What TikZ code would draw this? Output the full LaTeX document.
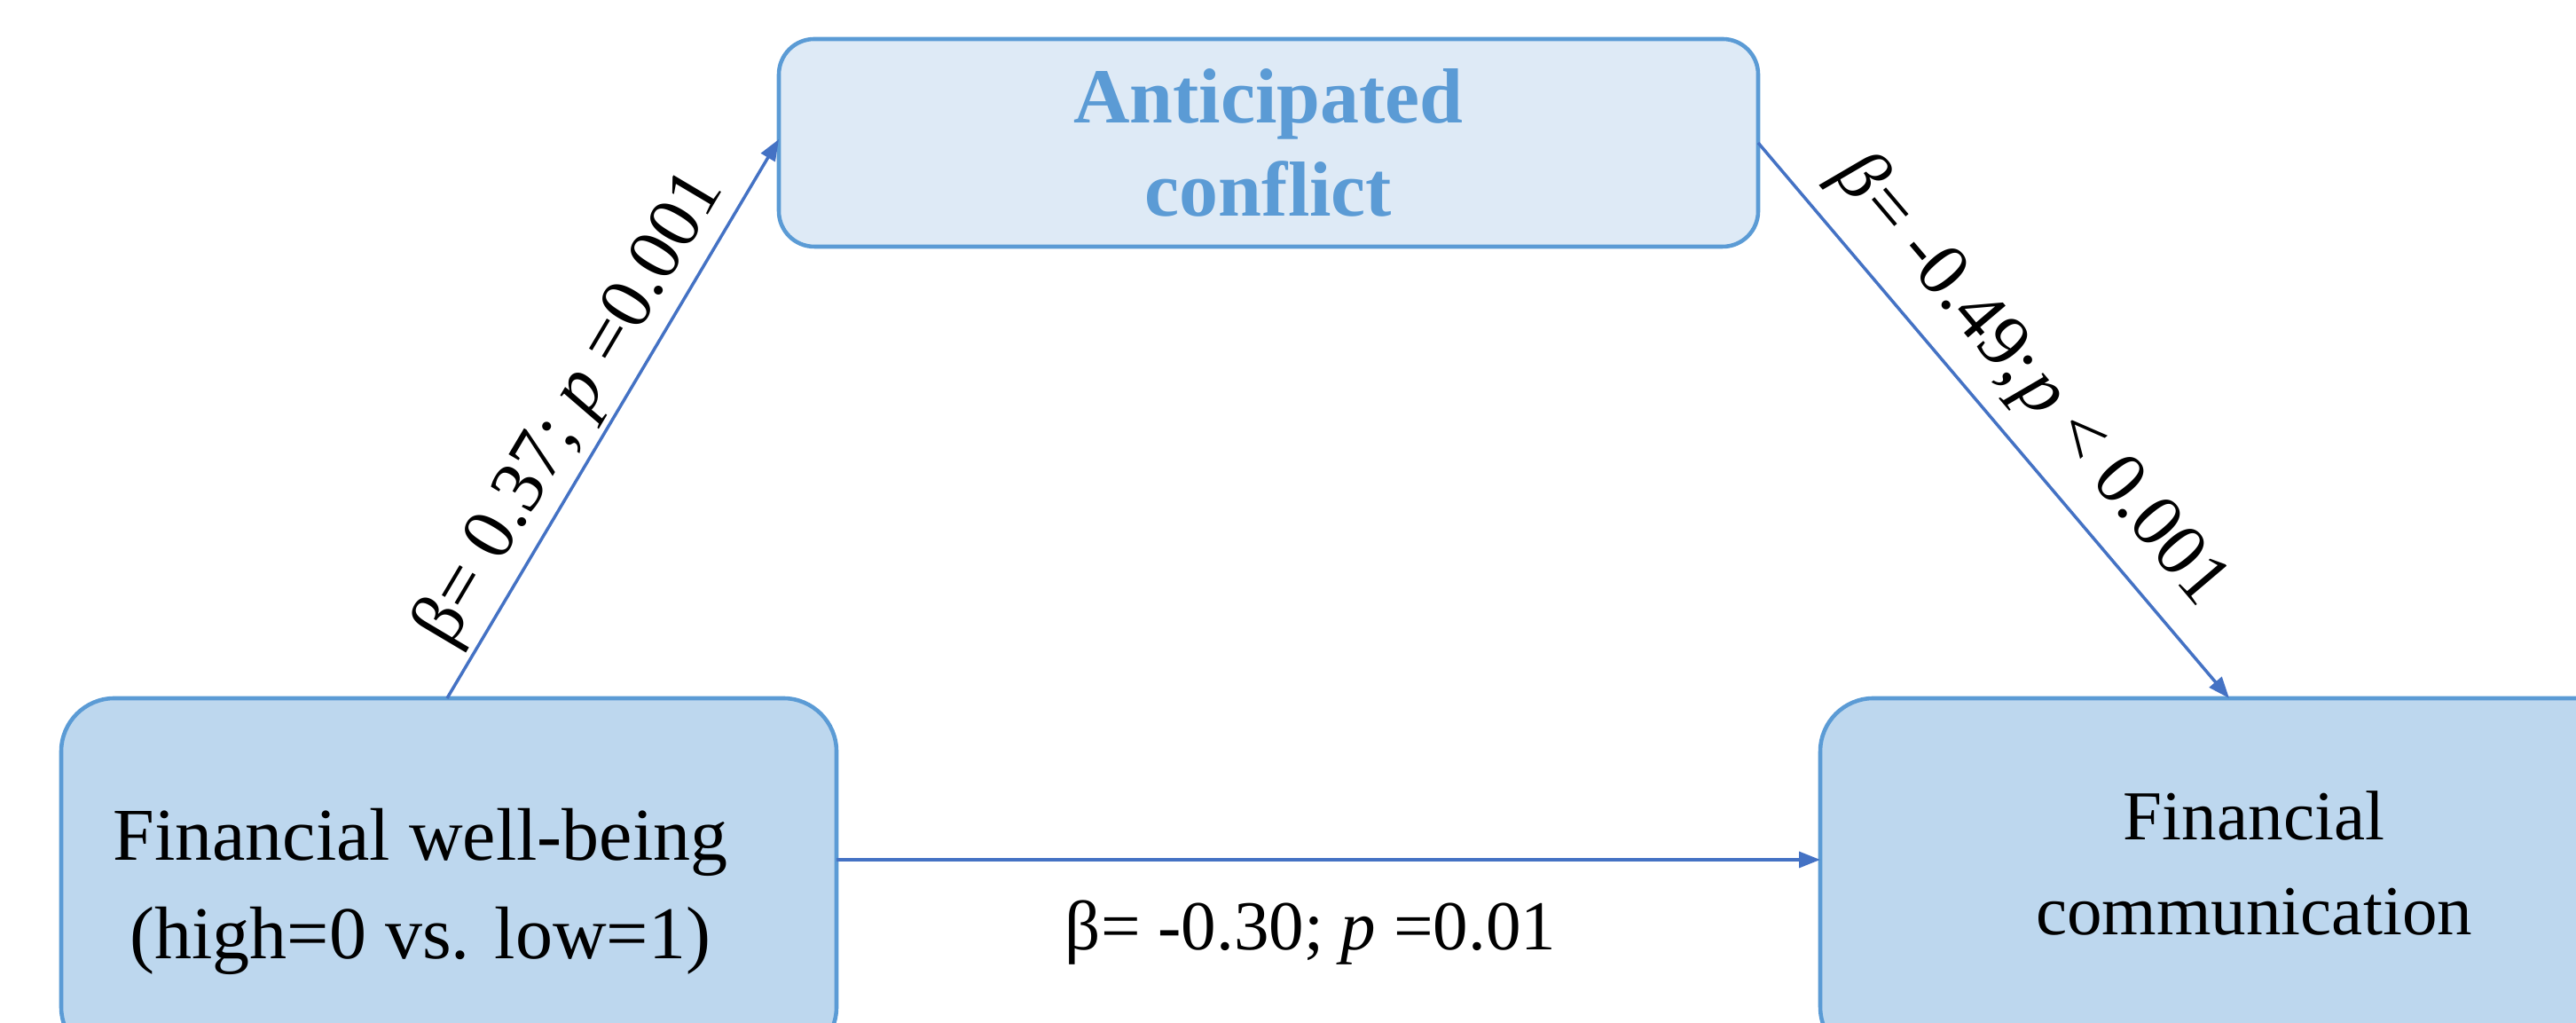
\documentclass[tikz,border=0pt]{standalone}
\usepackage{fontspec}
\setmainfont{Liberation Serif}
\usetikzlibrary{arrows.meta,calc}
\definecolor{boxborder}{HTML}{5B9BD5}
\definecolor{topfill}{HTML}{DEEAF6}
\definecolor{botfill}{HTML}{BDD7EE}
\definecolor{arrowc}{HTML}{4472C4}
\definecolor{toptext}{HTML}{5B9BD5}
\begin{document}
\begin{tikzpicture}[
  every node/.style={inner sep=0pt, outer sep=0pt},
  varbox/.style={draw=boxborder, line width=1.3pt, align=center},
  topbox/.style={varbox, fill=topfill, rounded corners=0.4cm, minimum width=11.04cm, minimum height=2.34cm,
     font=\fontsize{25}{30}\selectfont\bfseries, text=toptext},
  lowbox/.style={varbox, fill=botfill, rounded corners=0.6cm, minimum height=4.08cm},
  boxtext/.style={align=center, text=black},
  conn/.style={draw=arrowc, line width=1pt, -{Triangle[length=0.24cm,width=0.18cm]}},
  lbl/.style={font=\fontsize{24}{28}\selectfont, text=black},
]
\useasboundingbox (0,0) rectangle (29.04,11.53);
\clip (0,0) rectangle (29.04,11.53);
\node[topbox] (tb) at (14.30,9.92) {Anticipated\\conflict};
\node[lowbox, minimum width=8.74cm] (lb) at (5.06,1.62) {};
\node[lowbox, minimum width=9.78cm] (rb) at (25.41,1.62) {};
\node[boxtext, font=\fontsize{23.9}{31.6}\selectfont] (lbt) at ([xshift=-0.32cm,yshift=-0.135cm]lb.center) {Financial well-being\\(high=0 vs. low=1)};
\node[boxtext, font=\fontsize{22.5}{30.7}\selectfont] (rbt) at ([yshift=0.18cm]rb.center) {Financial\\communication};
\draw[conn] ([xshift=4.35cm]lb.north west) -- node[lbl, sloped, above=2pt, pos=0.48] (l1) {β= 0.37; \textit{p} =0.001} ([yshift=0.04cm]tb.west);
\draw[conn] (tb.east) -- node[lbl, sloped, above=6pt, pos=0.49] (l2) {\textit{β}\kern0.04em= -0.49;\kern0.06em\textit{p} < 0.001} ([xshift=4.61cm]rb.north west);
\coordinate (s3) at ([yshift=0.22cm]lb.east);
\draw[conn] (s3) -- node[lbl, font=\fontsize{22.5}{27}\selectfont, below=0.46cm, pos=0.482] (l3) {β= -0.30; \textit{p} =0.01} (s3 -| rb.west);
\end{tikzpicture}
\end{document}
